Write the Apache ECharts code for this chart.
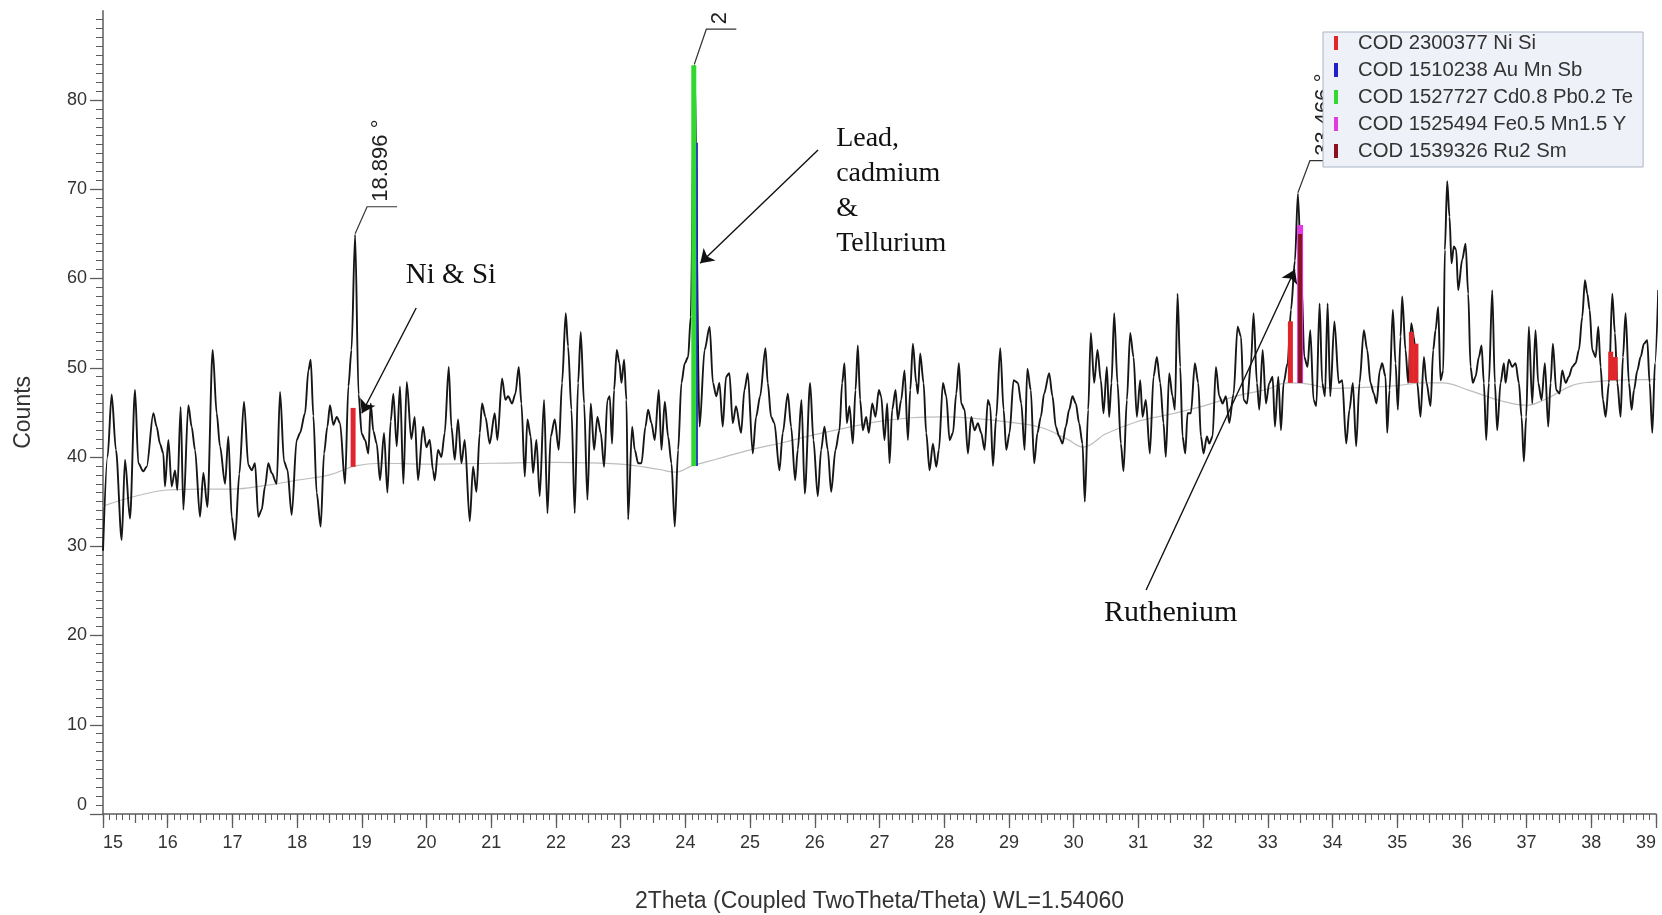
<!DOCTYPE html>
<html><head><meta charset="utf-8">
<script src="https://cdn.jsdelivr.net/npm/echarts@6/dist/echarts.min.js"></script>
<style>html,body{margin:0;padding:0;background:#fff}#main{width:1662px;height:915px}</style>
</head><body><div id="main"></div>
<script>
// measured scan: [2Theta, Counts]
const scanPoints = [
[15.00,29.5],[15.07,40.0],[15.134,47.0],[15.20,40.8],[15.289,30.7],[15.34,39.7],[15.417,33.1],[15.495,47.5],[15.546,39.3],[15.623,38.4],
[15.675,38.9],[15.778,44.9],[15.829,43.4],[15.88,41.5],[15.932,40.4],[15.958,36.7],[16.01,41.9],[16.061,36.7],[16.113,38.5],[16.149,36.3],
[16.20,45.6],[16.242,34.1],[16.319,45.8],[16.37,43.4],[16.422,40.8],[16.499,33.3],[16.551,38.2],[16.613,34.4],[16.695,52.0],[16.757,44.9],
[16.808,41.2],[16.886,37.0],[16.937,42.3],[16.989,33.3],[17.04,30.7],[17.107,38.1],[17.179,46.2],[17.246,39.1],[17.298,38.5],[17.349,39.3],
[17.40,33.3],[17.452,34.1],[17.504,36.7],[17.555,39.3],[17.607,38.2],[17.684,37.0],[17.736,47.3],[17.798,39.5],[17.849,38.6],[17.916,33.5],
[17.993,41.9],[18.045,42.7],[18.122,44.9],[18.174,49.7],[18.21,50.9],[18.251,44.6],[18.302,36.0],[18.364,32.2],[18.416,40.4],[18.467,43.4],
[18.508,45.8],[18.56,43.6],[18.612,44.5],[18.663,43.8],[18.74,37.0],[18.792,47.9],[18.84,52.0],[18.896,64.9],[18.95,47.0],[18.998,42.6],
[19.05,41.9],[19.101,40.4],[19.137,46.0],[19.178,42.9],[19.23,41.5],[19.281,37.4],[19.343,42.7],[19.395,36.0],[19.446,44.0],[19.487,47.1],
[19.539,41.2],[19.59,47.9],[19.642,37.0],[19.694,48.4],[19.765,42.0],
[19.817,44.5],[19.868,37.4],[19.946,43.4],[19.997,41.1],[20.049,41.9],[20.10,38.5],[20.126,37.4],[20.178,40.8],[20.23,40.0],[20.281,42.7],
[20.343,50.1],[20.384,43.4],[20.436,39.7],[20.487,44.2],[20.539,39.3],[20.59,41.9],[20.668,32.8],[20.719,38.9],[20.771,36.1],[20.822,42.7],
[20.858,46.0],[20.91,44.5],[20.976,41.5],[21.054,44.9],[21.095,41.9],[21.167,48.8],[21.219,46.4],[21.26,46.8],[21.322,46.0],[21.373,47.1],
[21.425,50.1],[21.466,46.0],[21.518,37.8],[21.559,44.2],[21.61,42.3],[21.646,38.2],[21.698,41.9],[21.749,35.6],[21.816,46.4],[21.868,33.7],
[21.919,42.3],[21.981,44.2],[22.043,40.8],[22.094,48.3],[22.151,56.1],[22.187,52.4],[22.239,45.3],[22.29,33.7],[22.342,48.3],[22.383,54.0],
[22.435,46.0],[22.486,35.2],[22.538,46.0],[22.589,40.8],[22.641,44.5],[22.692,42.7],[22.744,38.9],[22.795,46.4],[22.831,46.8],[22.867,41.5],
[22.898,47.5],[22.94,52.0],[22.981,50.5],[23.012,48.3],[23.053,50.9],[23.089,46.4],[23.115,33.0],[23.177,43.4],[23.218,40.8],[23.27,39.3],
[23.321,39.3],[23.383,43.4],[23.424,45.3],[23.476,43.8],[23.527,41.9],[23.589,47.5],[23.63,40.8],[23.682,46.2],[23.733,42.3],[23.785,39.3],
[23.836,32.2],[23.888,40.8],[23.939,48.3],[23.991,50.5],[24.042,51.2],[24.083,55.7],[24.138,83.9],[24.22,43.4],[24.297,52.0],[24.375,54.6],
[24.426,48.3],[24.478,46.8],
[24.526,48.3],[24.577,43.4],[24.629,49.0],[24.68,49.4],[24.732,43.8],[24.783,45.7],[24.861,42.7],[24.912,47.5],[24.964,49.4],[25.041,40.4],
[25.093,44.5],[25.155,46.8],[25.237,52.2],[25.273,48.3],[25.325,44.5],[25.376,43.8],[25.453,38.5],[25.505,42.7],[25.583,47.1],[25.634,43.4],
[25.696,37.4],[25.737,40.8],[25.794,46.4],[25.845,35.9],[25.928,48.3],[25.979,41.9],[26.046,35.6],[26.098,40.8],[26.149,43.4],[26.201,40.8],
[26.253,36.1],[26.32,40.8],[26.381,43.0],[26.423,48.3],[26.459,50.5],[26.495,43.8],[26.536,45.7],[26.588,41.5],[26.629,47.5],[26.665,52.5],
[26.701,46.4],[26.742,43.0],[26.794,44.5],[26.835,42.7],[26.887,46.0],[26.938,44.5],[26.99,47.5],[27.026,46.8],[27.077,41.9],[27.119,46.0],
[27.155,39.3],[27.196,45.3],[27.248,47.5],[27.284,44.2],[27.335,46.4],[27.387,49.7],[27.439,41.9],[27.475,47.5],[27.516,52.7],[27.568,48.3],
[27.593,47.1],[27.629,51.6],[27.681,48.3],[27.722,42.7],[27.774,38.5],[27.825,41.5],[27.877,38.9],[27.918,40.8],[27.98,48.3],[28.032,46.8],
[28.083,41.9],[28.135,42.7],[28.186,47.1],[28.227,50.5],[28.263,46.0],[28.315,45.3],[28.366,40.4],[28.418,44.5],[28.469,43.0],[28.521,43.8],
[28.572,42.7],[28.624,40.8],[28.675,46.4],[28.711,45.7],[28.753,39.0],[28.804,44.5],[28.866,52.2],[28.918,45.3],[28.959,40.8],[29.01,42.7],
[29.072,48.6],[29.139,48.3],[29.191,46.0],[29.242,40.8],[29.285,49.9],
[29.338,47.5],[29.39,39.3],[29.441,42.7],[29.493,44.5],[29.544,47.1],[29.622,49.4],[29.673,46.8],[29.725,43.4],[29.776,42.3],[29.828,41.5],
[29.879,43.4],[29.931,45.3],[29.982,46.8],[30.034,46.0],[30.085,43.8],[30.137,41.5],[30.173,35.0],[30.225,45.3],[30.266,53.9],[30.317,48.3],
[30.369,52.0],[30.42,48.6],[30.462,44.9],[30.513,50.1],[30.549,44.5],[30.585,48.3],[30.627,56.1],[30.678,48.3],[30.73,41.5],[30.771,38.4],
[30.823,46.4],[30.874,53.9],[30.926,51.2],[30.977,44.5],[31.029,48.6],[31.065,44.5],[31.116,46.4],[31.178,40.4],[31.235,49.0],[31.286,51.2],
[31.338,48.3],[31.389,43.8],[31.425,40.0],[31.477,49.4],[31.528,46.8],[31.565,45.3],[31.606,58.3],[31.647,50.1],[31.683,42.3],[31.725,40.4],
[31.761,44.9],[31.812,44.9],[31.874,50.5],[31.926,48.3],[31.967,42.3],[32.008,40.4],[32.06,42.3],[32.096,41.5],[32.147,42.3],[32.199,50.1],
[32.251,46.8],[32.302,46.0],[32.354,46.8],[32.405,43.8],[32.472,47.1],[32.534,54.6],[32.586,53.5],[32.627,46.4],[32.679,46.0],[32.74,50.5],
[32.781,56.1],[32.833,48.3],[32.869,45.3],[32.921,52.0],[32.972,46.0],[33.024,48.3],[33.075,49.0],[33.111,43.4],[33.163,49.0],[33.204,43.0],
[33.245,48.3],[33.307,50.5],[33.359,56.5],[33.42,62.0],[33.466,69.5],[33.523,59.5],[33.564,51.2],[33.615,50.1],[33.657,54.2],[33.708,46.4],
[33.75,45.7],[33.801,57.2],[33.842,48.3],[33.884,46.8],[33.925,57.2],[33.966,46.8],[34.03,55.2],
[34.098,48.3],[34.15,48.6],[34.212,41.5],[34.263,45.3],[34.315,48.3],[34.366,41.2],[34.418,48.3],[34.485,54.2],[34.537,52.0],[34.588,48.3],
[34.64,47.1],[34.681,46.0],[34.732,49.7],[34.768,50.5],[34.82,49.0],[34.846,42.7],[34.882,47.5],[34.933,56.5],[34.975,50.5],[35.011,45.3],
[35.052,53.5],[35.078,58.0],[35.129,52.0],[35.17,48.3],[35.217,55.0],[35.258,53.5],[35.31,48.3],[35.361,44.5],[35.413,51.2],[35.454,48.3],
[35.516,45.7],[35.557,52.0],[35.593,54.2],[35.634,56.8],[35.67,48.6],[35.712,49.7],[35.737,63.2],[35.773,70.9],[35.809,66.9],[35.84,61.7],
[35.876,63.6],[35.912,63.2],[35.943,58.7],[36.005,62.1],[36.057,63.9],[36.098,58.3],[36.134,50.1],[36.17,48.3],[36.211,49.0],[36.263,51.2],
[36.304,52.5],[36.34,48.3],[36.376,41.9],[36.417,48.3],[36.469,58.7],[36.51,48.3],[36.546,43.0],[36.598,48.3],[36.649,50.5],[36.675,48.3],
[36.726,50.9],[36.778,50.1],[36.83,50.5],[36.881,48.3],[36.922,44.5],[36.958,39.5],[36.994,44.5],[37.035,54.6],[37.087,46.0],[37.138,54.2],
[37.18,48.3],[37.231,46.4],[37.283,50.5],[37.334,43.4],[37.371,48.3],[37.407,52.7],[37.458,47.5],[37.51,47.1],[37.551,49.7],[37.603,48.3],
[37.654,49.0],[37.706,50.1],[37.757,50.5],[37.809,52.0],[37.86,55.7],[37.902,59.8],[37.938,58.3],[37.974,56.5],[38.015,52.0],[38.067,51.2],
[38.108,54.6],[38.144,50.1],[38.18,46.4],[38.221,44.5],[38.273,48.3],[38.324,58.3],[38.365,53.9],[38.402,48.3],[38.453,44.5],[38.489,51.2],
[38.53,56.1],[38.582,48.3],[38.623,45.3],[38.66,47.5],[38.711,49.7],[38.762,51.2],[38.814,52.7],[38.865,53.1],[38.901,48.3],[38.943,42.7],
[38.984,50.5],[39.035,58.7]
];

// fitted background
const bgTheta = [15.0,15.5,16.0,16.5,17.0,17.5,18.0,18.5,18.9,19.3,20.0,21.0,22.0,23.0,23.6,23.85,24.1,24.5,25.0,25.5,26.0,26.5,27.0,27.5,28.0,28.5,29.0,29.5,29.9,30.15,30.5,31.0,31.5,32.0,32.5,33.0,33.3,33.6,34.0,34.5,35.0,35.4,35.7,36.1,36.6,37.0,37.3,37.7,38.0,38.4,39.0];
const bgCounts = [34.5,35.6,36.3,36.4,36.4,36.8,37.4,38.0,39.0,39.3,39.2,39.3,39.4,39.2,38.6,38.3,39.0,39.8,40.8,41.6,42.5,43.3,44.0,44.4,44.5,44.3,43.9,43.3,42.0,41.1,42.6,44.0,44.8,45.7,46.8,47.6,48.3,48.2,47.7,47.8,48.0,48.3,48.3,47.5,46.3,45.8,46.5,48.0,48.4,48.6,48.7];

// reference phase sticks: [2Theta, base, top]
const phaseNames = ['COD 2300377 Ni Si','COD 1510238 Au Mn Sb','COD 1527727 Cd0.8 Pb0.2 Te','COD 1525494 Fe0.5 Mn1.5 Y','COD 1539326 Ru2 Sm'];
const phaseColors = ['#e0262a','#2020c8','#30d830','#e23ae2','#8c1024'];
const niSiSticks   = [[18.865,38.9,45.5],[33.35,48.3,55.2],[35.22,48.3,54.0],[35.29,48.3,52.7],[38.30,48.6,51.8],[38.37,48.6,51.2]];
const auMnSbSticks = [[24.178,39.0,75.2]];
const cdPbTeSticks = [[24.13,39.0,83.9]];
const feMnYSticks  = [[33.50,48.3,66.0]];
const ru2SmSticks  = [[33.50,48.3,65.0]];

const yTickValues = [0,10,20,30,40,50,60,70,80];
const peakLabels = [
  {x:18.896, y:64.9, text:'18.896 °', rise:28, clip:0},
  {x:24.138, y:83.9, text:'24.138 °', rise:36, clip:16},
  {x:33.466, y:69.5, text:'33.466 °', rise:33, clip:0}
];
const notes = [
  {text:'Ni & Si', x:19.68, y:60.3, size:29, va:'middle'},
  {text:'Lead,\ncadmium\n&\nTellurium', x:26.33, y:77.6, size:28, va:'top'},
  {text:'Ruthenium', x:30.47, y:22.5, size:30, va:'middle'}
];
const arrows = [[[19.84,56.7],[19.0,44.9]],[[26.05,74.4],[24.23,61.7]],[[31.12,25.1],[33.42,61.0]]];

const SANS = '"Liberation Sans", Arial, sans-serif';
const SERIF = '"Liberation Serif", "Times New Roman", serif';
const chart = echarts.init(document.getElementById('main'));

function stickSeries(idx, data, w) {
  const color = phaseColors[idx];
  return {
    type:'custom', name: phaseNames[idx], data, z:3, silent:true,
    itemStyle:{color},
    encode:{x:0, y:[1,2]},
    renderItem:(params, api) => {
      const x = api.value(0);
      const b = api.coord([x, api.value(1)]);
      const t = api.coord([x, api.value(2)]);
      return {type:'rect', shape:{x:b[0]-w/2, y:t[1], width:w, height:b[1]-t[1]}, style:{fill:color}};
    }
  };
}

const axisGray = '#5c5c5c';
const option = {
  animation:false,
  grid:{left:103, right:6, top:10.75, bottom:101, containLabel:false, outerBoundsMode:'none'},
  legend:{
    orient:'vertical', left:1323, top:32,
    data: phaseNames.map(n => ({name:n, icon:'rect'})),
    itemWidth:4, itemHeight:14, itemGap:5,
    padding:[0,10,5,11],
    backgroundColor:'#eef1f7', borderColor:'#a9b4c6', borderWidth:1,
    textStyle:{fontFamily:SANS, fontSize:20.3, color:'#333', lineHeight:22, padding:[0,0,0,15]},
    selectedMode:false
  },
  xAxis:[{
    type:'value', min:15, max:39, interval:1,
    name:'2Theta (Coupled TwoTheta/Theta) WL=1.54060', nameLocation:'middle', nameGap:76,
    nameTextStyle:{fontFamily:SANS, fontSize:23, color:'#333'},
    axisLine:{show:true, onZero:false, lineStyle:{color:axisGray, width:1.5}},
    axisTick:{show:true, length:14, lineStyle:{color:axisGray, width:1.3}},
    minorTick:{show:true, splitNumber:10, length:6, lineStyle:{color:axisGray, width:1}},
    axisLabel:{fontFamily:SANS, fontSize:18, color:'#333', margin:20, alignMinLabel:'left', alignMaxLabel:'right'},
    splitLine:{show:false}
  },{
    type:'value', min:15, max:39, interval:0.5, position:'bottom',
    axisLine:{show:false}, axisLabel:{show:false}, splitLine:{show:false},
    axisTick:{show:true, length:9, lineStyle:{color:axisGray, width:1.2}}
  }],
  yAxis:{
    type:'value', min:0, max:90, interval:10,
    name:'Counts', nameLocation:'middle', nameGap:68, nameRotate:90,
    nameTextStyle:{fontFamily:SANS, fontSize:23, color:'#333'},
    axisLine:{show:true, lineStyle:{color:axisGray, width:1.5}},
    axisTick:{show:true, length:13, customValues:yTickValues, lineStyle:{color:axisGray, width:1.3}},
    minorTick:{show:true, splitNumber:10, length:7, lineStyle:{color:axisGray, width:1}},
    axisLabel:{fontFamily:SANS, fontSize:18, color:'#333', margin:16, showMaxLabel:false, verticalAlignMinLabel:'bottom'},
    splitLine:{show:false}
  },
  series:[
    {type:'line', name:'Background', data: bgTheta.map((x,i)=>[x,bgCounts[i]]), smooth:0.4, symbol:'none', silent:true, z:1,
     lineStyle:{color:'#bdbdbd', width:1.2}},
    {type:'line', name:'Scan', data: scanPoints, smooth:0.3, smoothMonotone:'x', symbol:'none', silent:true, z:2,
     lineStyle:{color:'#161616', width:1.9},
     markLine:{silent:true, symbol:['none','arrow'], symbolSize:13, animation:false,
       lineStyle:{color:'#111', width:1.4, type:'solid'}, label:{show:false}, emphasis:{disabled:true},
       data: arrows.map(a => [{coord:a[0]},{coord:a[1]}])}},
    stickSeries(0, niSiSticks, 5),
    stickSeries(1, auMnSbSticks, 2),
    stickSeries(2, cdPbTeSticks, 5),
    stickSeries(3, feMnYSticks, 6),
    stickSeries(4, ru2SmSticks, 4)
  ]
};
chart.setOption(option);

const px = (x, y) => chart.convertToPixel({seriesIndex:1}, [x, y]);
const gfx = [];
peakLabels.forEach(p => {
  const [x0, y0] = px(p.x, p.y);
  const kx = x0 + 12, ky = y0 - p.rise;
  gfx.push({type:'polyline', z:3, silent:true, shape:{points:[[x0, y0-1],[kx, ky],[kx+30, ky]]},
    style:{stroke:'#333', lineWidth:1.2, fill:null}});
  const st = {text:p.text, font:'22px ' + SANS, fill:'#222', align:'left', verticalAlign:'middle'};
  if (p.clip) { st.width = p.clip; st.overflow = 'truncate'; st.ellipsis = ''; }
  gfx.push({type:'text', z:3, silent:true, x:kx+14, y:ky-5, rotation:Math.PI/2, style:st});
});
notes.forEach(n => {
  const [x, y] = px(n.x, n.y);
  gfx.push({type:'text', z:3, silent:true, x, y,
    style:{text:n.text, font:n.size + 'px ' + SERIF, fill:'#111', align:'left', verticalAlign:n.va, lineHeight:35}});
});
chart.setOption({graphic: gfx});
</script>
</body></html>
